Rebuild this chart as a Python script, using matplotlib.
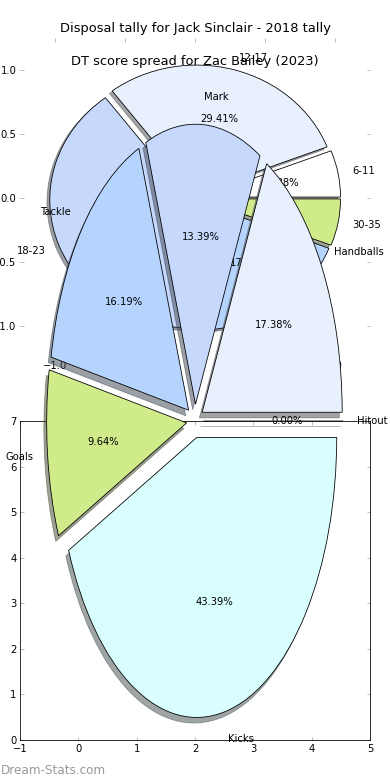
import matplotlib
matplotlib.use('Agg')
import matplotlib.pyplot as plt

plt.rcParams['font.size'] = 10

# DT score spread for Zac Bailey (2023): games in each score band
dt_bands = ['6-11', '12-17', '18-23', '24-29', '30-35']
dt_games = [1, 5, 7, 3, 1]

# disposal tally for Jack Sinclair (2018), share of total in %
stat_names = ['Handballs', 'Mark', 'Tackle', 'Goals', 'Kicks', 'Hitout']
stat_share = [17.38, 13.39, 16.19, 9.64, 43.39, 0.0]

pie_ticks = [-1.0, -0.5, 0.0, 0.5, 1.0]

dt_colors = ['#ffffff', '#e8f0fe', '#c6d9fc', '#b4d4fd', '#d0eb8a']
stat_colors = ['#e8f0fe', '#c6d9fc', '#b4d4fd', '#d0eb8a', '#d9fefe', '#ffffff']

W, H = 390, 780
fig = plt.figure(figsize=(W / 72, H / 72), dpi=72)


def box(left, top, right, bottom):
    # pixel box -> figure fraction
    return [left / W, 1 - bottom / H, (right - left) / W, (bottom - top) / H]


ax1 = fig.add_axes(box(20, 38, 370, 358))
ax2 = fig.add_axes(box(20, 421, 370, 740))
ax3 = fig.add_axes(box(20, 71, 370, 771))

wedge_style = dict(edgecolor='black', linewidth=0.8)

ax1.pie(dt_games, labels=dt_bands, colors=dt_colors,
        explode=[0.04] * len(dt_games), autopct='%1.2f%%', shadow=True,
        wedgeprops=wedge_style, textprops={'fontsize': 10})
ax1.set_aspect('auto')
ax1.set_xticks(pie_ticks)
ax1.set_yticks(pie_ticks)
ax1.set_title('Disposal tally for Jack Sinclair - 2018 tally', fontsize=13)

ax2.set_xlim(-1, 5)
ax2.set_ylim(0, 7)

for ax in (ax1, ax2):
    ax.tick_params(direction='in', top=True, right=True, color='#bbbbbb',
                   length=3.5, width=1, labelsize=10)

ax3.pie(stat_share, labels=stat_names, colors=stat_colors,
        explode=[0.06] * len(stat_share), autopct='%1.2f%%', shadow=True,
        wedgeprops=wedge_style, textprops={'fontsize': 10})
ax3.set_aspect('auto')
ax3.set_title('DT score spread for Zac Bailey (2023)', fontsize=13)

fig.text(0.002, 0.008, 'Dream-Stats.com', color='#999999', fontsize=12)

fig.savefig('out.png', dpi=72)
